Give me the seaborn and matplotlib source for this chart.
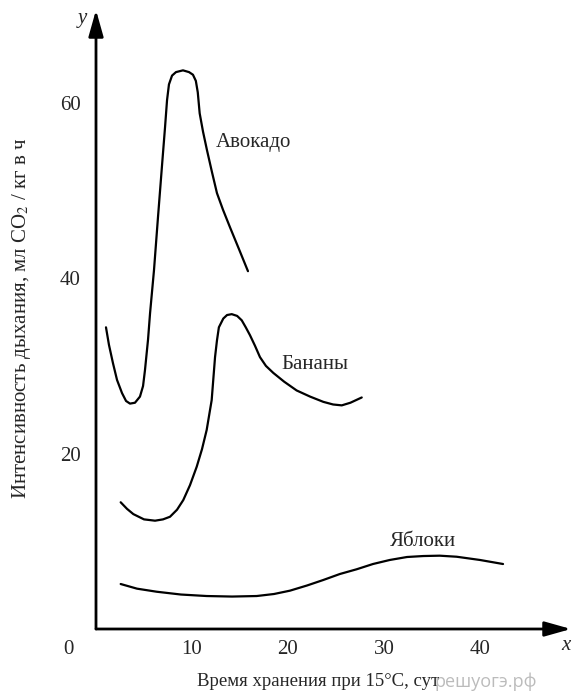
import matplotlib
matplotlib.use("Agg")
import matplotlib.pyplot as plt
import seaborn as sns
import pandas as pd

# Кривые дыхания плодов (время, сут; интенсивность, мл CO2 / кг в ч)
avocado_t = [1.04, 1.35, 1.77, 2.19, 2.71, 3.13, 3.54, 4.06, 4.58, 4.9, 5.1, 5.42,
             5.63, 6.04, 6.46, 6.88, 7.19, 7.4, 7.6, 7.92, 8.33, 9.06, 9.69, 10.1,
             10.4, 10.6, 10.8, 11.15, 11.56, 12.08, 12.6, 13.23, 13.96, 14.9, 15.83]
avocado_v = [34.4, 32.4, 30.3, 28.4, 26.9, 26.0, 25.7, 25.8, 26.5, 27.7, 29.5, 33.0,
             36.0, 40.9, 47.0, 52.9, 57.2, 60.3, 62.1, 63.1, 63.5, 63.7, 63.5, 63.2,
             62.5, 61.2, 58.8, 56.7, 54.6, 52.1, 49.7, 47.8, 45.8, 43.3, 40.8]

banana_t = [2.57, 3.23, 3.89, 5.0, 6.15, 6.98, 7.71, 8.44, 9.09, 9.79, 10.49, 11.04,
            11.53, 12.05, 12.4, 12.6, 12.8, 13.26, 13.65, 14.14, 14.7, 15.18, 15.6,
            16.04, 16.56, 17.08, 17.7, 18.47, 19.6, 20.9, 22.3, 23.68, 24.7, 25.6,
            26.5, 27.68]
banana_v = [14.45, 13.7, 13.1, 12.5, 12.35, 12.5, 12.8, 13.6, 14.7, 16.4, 18.5, 20.5,
            22.7, 26.1, 31.0, 32.9, 34.4, 35.4, 35.8, 35.9, 35.7, 35.2, 34.4,
            33.5, 32.3, 31.0, 30.0, 29.2, 28.2, 27.2, 26.5, 25.9, 25.6, 25.5,
            25.8, 26.4]

apple_t = [2.57, 4.27, 6.32, 8.85, 11.53, 14.17, 16.74, 18.54, 20.2, 21.98, 23.68,
           25.4, 27.15, 28.85, 30.6, 32.4, 34.1, 35.8, 37.57, 40.0, 42.4]
apple_v = [5.13, 4.6, 4.25, 3.93, 3.76, 3.7, 3.76, 3.99, 4.37, 4.96, 5.59,
           6.27, 6.81, 7.41, 7.87, 8.21, 8.32, 8.36, 8.24, 7.87, 7.41]

fruit_names = ["Авокадо", "Бананы", "Яблоки"]
label_pos = [(12.5, 55.5), (19.3, 30.2), (30.6, 9.95)]

x_ticks = [10, 20, 30, 40]
y_ticks = [20, 40, 60]

sns.set_style("white")
plt.rcParams["font.family"] = ["Liberation Serif", "DejaVu Serif"]
plt.rcParams["mathtext.fontset"] = "stix"

fig = plt.figure(figsize=(5.72, 6.97), dpi=100)
ax = fig.add_axes([96 / 572, 68 / 697, 475 / 572, 619 / 697])

curves = [(avocado_t, avocado_v), (banana_t, banana_v), (apple_t, apple_v)]
for (t, v), name in zip(curves, fruit_names):
    df = pd.DataFrame({"t": t, "v": v})
    sns.lineplot(data=df, x="t", y="v", sort=False, estimator=None,
                 color="black", lw=1.6, ax=ax)

for name, (lx, ly) in zip(fruit_names, label_pos):
    ax.text(lx, ly, name, fontsize=15, va="center", ha="left")

ax.set_xlim(0, 475 / 9.6)
ax.set_ylim(0, 619 / 8.77)
ax.set_xticks(x_ticks)
ax.set_yticks(y_ticks)
ax.tick_params(length=0, labelsize=15)
ax.tick_params(axis="x", pad=8)
ax.tick_params(axis="y", pad=11)
ax.set_xlabel("")
ax.set_ylabel("")
for s in ax.spines.values():
    s.set_visible(False)

# оси со стрелками
arrow = dict(arrowstyle="-|>,head_length=1.6,head_width=0.45", lw=2,
             color="black", shrinkA=0, shrinkB=0, mutation_scale=10)
ax.annotate("", xy=(0, 1), xytext=(0, 0), xycoords="axes fraction",
            arrowprops=arrow, annotation_clip=False)
ax.annotate("", xy=(1, 0), xytext=(0, 0), xycoords="axes fraction",
            arrowprops=arrow, annotation_clip=False)

fig.text(82 / 572, 1 - 19 / 697, "y", fontsize=15, style="italic",
         ha="center", va="center")
fig.text(566 / 572, 1 - 645 / 697, "x", fontsize=15, style="italic",
         ha="center", va="center")
fig.text(68 / 572, 1 - 649 / 697, "0", fontsize=15, ha="center", va="center")

fig.text(22 / 572, 1 - 318 / 697,
         "Интенсивность дыхания, мл CO$_2$ / кг в ч",
         fontsize=15, rotation=90, ha="center", va="center")
fig.text(318 / 572, 1 - 681 / 697, "Время хранения при 15°С, сут",
         fontsize=13.5, ha="center", va="center")
fig.text(486 / 572, 1 - 682 / 697, "решуогэ.рф", fontsize=13, color="#b0b0b0",
         alpha=0.85, ha="center", va="center", family=["Open Sans", "DejaVu Sans"])

fig.savefig("out.png", dpi=100)
